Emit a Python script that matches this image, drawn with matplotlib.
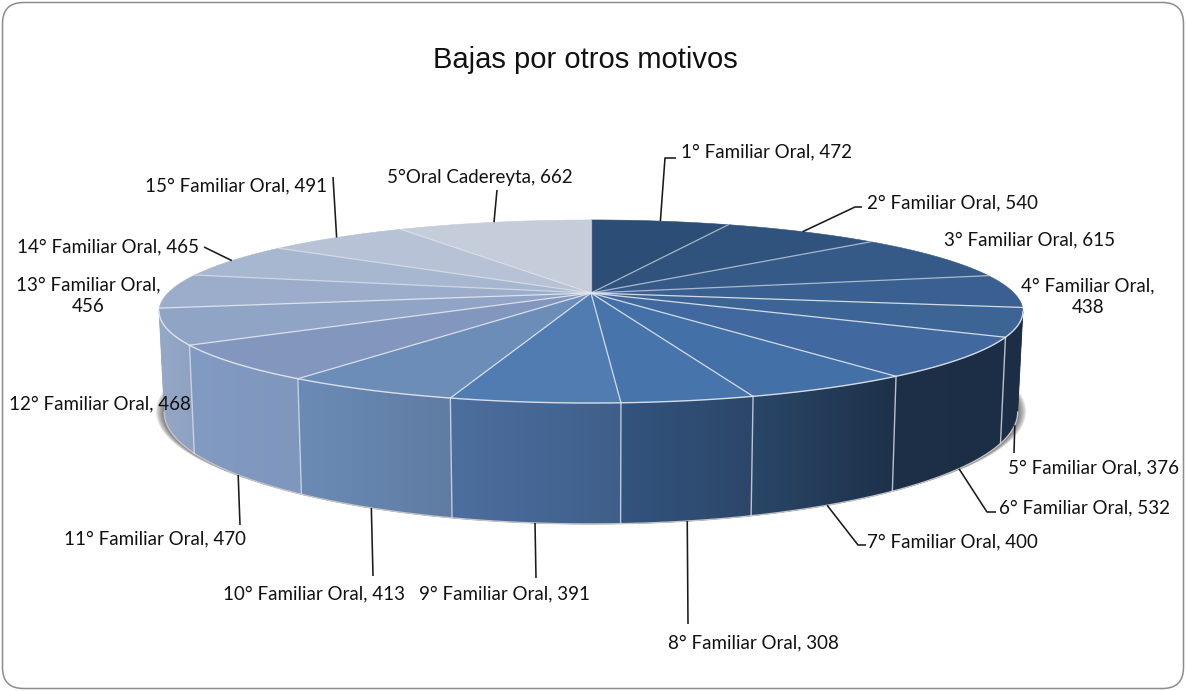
import numpy as np
import matplotlib
matplotlib.use("Agg")
import matplotlib.pyplot as plt
from matplotlib.patches import Polygon, FancyBboxPatch

title = "Bajas por otros motivos"
categories = ["1° Familiar Oral", "2° Familiar Oral", "3° Familiar Oral", "4° Familiar Oral",
              "5° Familiar Oral", "6° Familiar Oral", "7° Familiar Oral", "8° Familiar Oral",
              "9° Familiar Oral", "10° Familiar Oral", "11° Familiar Oral", "12° Familiar Oral",
              "13° Familiar Oral", "14° Familiar Oral", "15° Familiar Oral", "5°Oral Cadereyta"]
values = [472, 540, 615, 438, 376, 532, 400, 308, 391, 413, 470, 468, 456, 465, 491, 662]

top_colors = ["#2C4D75", "#30537D", "#355A87", "#396090", "#3C6596", "#41699F", "#4370A6", "#4674AB",
              "#507CB1", "#6D8DB9", "#8397BE", "#90A4C5", "#9CADCB", "#A8B7D0", "#B7C2D6", "#C5CCDA"]
side_left = ["#1C2F47", "#1C2F47", "#1C2F47", "#1C2F47", "#1C2F47", "#1D3048", "#2A4768", "#33547E",
             "#4D6F9F", "#6B8BB6", "#829BC2", "#95A8C6", "#9CADCB", "#A8B7D0", "#B7C2D6", "#C5CCDA"]
side_right = ["#1C2F47", "#1C2F47", "#1C2F47", "#1C2F47", "#1C2E45", "#1C2E45", "#1E3149", "#2C4669",
              "#3F5F8A", "#5F7CA2", "#7F96BD", "#8EA1C2", "#9CADCB", "#A8B7D0", "#B7C2D6", "#C5CCDA"]

label_layout = [
    (681, 152, "left"), (867, 203, "left"), (944, 240, "left"), (1088, 297, "center"),
    (1008, 468, "left"), (999, 508, "left"), (867, 542, "left"), (668, 643, "left"),
    (419, 594, "left"), (223, 594, "left"), (64, 539, "left"), (9, 404, "left"),
    (88, 296, "center"), (17, 247, "left"), (145, 186, "left"), (387, 177, "left"),
]
wrapped = {3, 12}
leaders = [
    [(665, 158), (676, 158)], [(855, 207), (862, 207)], None, None,
    [(1014, 453)], [(987, 512), (996, 512)], [(858, 545), (866, 545)], [(688, 624)],
    [(536, 578)], [(373, 576)], [(240, 525)], None,
    None, [(204, 247)], [(333, 177)], [(497, 190)],
]

CX, CY, A, B, K, H0, BX = 591, 293, 423, 87.8, 0.202, 96.5, 0.988


def top_pt(t):
    u, v = np.sin(t), np.cos(t)
    d = 1 + K * v
    return CX + A * u / d, CY - B * v / d


def bot_pt(t):
    x, y = top_pt(t)
    d = 1 + K * np.cos(t)
    return CX + (x - CX) * BX, y + H0 / d


fig = plt.figure(figsize=(11.86, 6.91), dpi=100, facecolor="white")
ax = fig.add_axes([0, 0, 1, 1])

frame = FancyBboxPatch((2.5, 2.5), 1181, 686, boxstyle="round,pad=0,rounding_size=21",
                       fc="white", ec="#8C8C8C", lw=1.1, zorder=0)
ax.add_patch(frame)

total = sum(values)
edges = np.deg2rad(np.cumsum([0] + values) / total * 360)
t_r = np.arccos(-K)
t_l = 2 * np.pi - t_r

# soft shadow behind the drum
tt = np.linspace(0, 2 * np.pi, 400)
bx, by = bot_pt(tt)
for i in range(14):
    s = 1.02 - i * 0.0014
    sy = 0.985 + 0.0012 * i
    ax.add_patch(Polygon(np.c_[CX + (bx - CX) * s, 372 + (by - 372) * sy], closed=True,
                         fc="#444444", ec="none", alpha=0.07, zorder=1))

# drum side
for i in range(len(values)):
    a0, a1 = max(edges[i], t_r), min(edges[i + 1], t_l)
    if a1 <= a0:
        continue
    ts = np.linspace(a0, a1, 60)
    tx, ty = top_pt(ts)
    ux, uy = bot_pt(ts)
    xs = np.r_[tx, ux[::-1]]
    ys = np.r_[ty, uy[::-1]]
    poly = Polygon(np.c_[xs, ys], closed=True, fc=side_right[i], ec=side_right[i], lw=0.5, zorder=2)
    ax.add_patch(poly)
    c0 = np.array(matplotlib.colors.to_rgb(side_left[i]))
    c1 = np.array(matplotlib.colors.to_rgb(side_right[i]))
    f = np.linspace(0, 1, 128)[None, :, None]
    im = ax.imshow(c0 + (c1 - c0) * f, extent=(xs.min(), xs.max(), ys.max(), ys.min()),
                   aspect="auto", zorder=2.1, interpolation="bilinear")
    im.set_clip_path(poly)

# seams and lower rim of the drum
fx, fy = bot_pt(np.linspace(t_r, t_l, 300))
ax.plot(fx, fy, color="#C4C4C4", lw=1.0, zorder=2.4)
for i in range(1, len(values)):
    e = edges[i]
    if t_r < e < t_l:
        x0, y0 = top_pt(e)
        x1, y1 = bot_pt(e)
        ax.plot([x0, x1], [y0, y1], color="#D5DBE5", lw=1.0, alpha=0.85, zorder=2.5)

# top face
for i in range(len(values)):
    ts = np.linspace(edges[i], edges[i + 1], 60)
    x, y = top_pt(ts)
    ax.add_patch(Polygon(np.r_[[[CX, CY]], np.c_[x, y]], closed=True, fc=top_colors[i],
                         ec=top_colors[i], lw=0.4, zorder=3))
for i in range(len(values)):
    x, y = top_pt(edges[i])
    front = np.cos(edges[i]) < 0
    ax.plot([CX, x], [CY, y], color="#E3E7EE", lw=0.9, alpha=0.9 if front else 0.65, zorder=3.5)
rx, ry = top_pt(np.linspace(t_r, t_l, 300))
ax.plot(rx, ry, color="#E6E9EF", lw=1.0, alpha=0.9, zorder=3.6)

# labels and leader lines
for i, (cat, val) in enumerate(zip(categories, values)):
    sep = ",\n" if i in wrapped else ", "
    px, py, ha = label_layout[i]
    ax.text(px, py, f"{cat}{sep}{val}", ha=ha, va="center", family="Lato", fontsize=13.5,
            color="#111111", linespacing=1.33, zorder=6)
    if leaders[i] is not None:
        mid = (edges[i] + edges[i + 1]) / 2
        sx, sy = bot_pt(mid) if t_r < mid < t_l else top_pt(mid)
        pts = [(sx, sy)] + leaders[i]
        ax.plot(*zip(*pts), color="#1A1A1A", lw=1.15, zorder=5, solid_capstyle="butt")

ax.text(585, 60, title, ha="center", va="center", family="Liberation Sans", fontsize=21, color="#111111", zorder=6)

ax.set_xlim(0, 1186)
ax.set_ylim(691, 0)
ax.axis("off")
fig.savefig("out.png", dpi=100, facecolor="white")
